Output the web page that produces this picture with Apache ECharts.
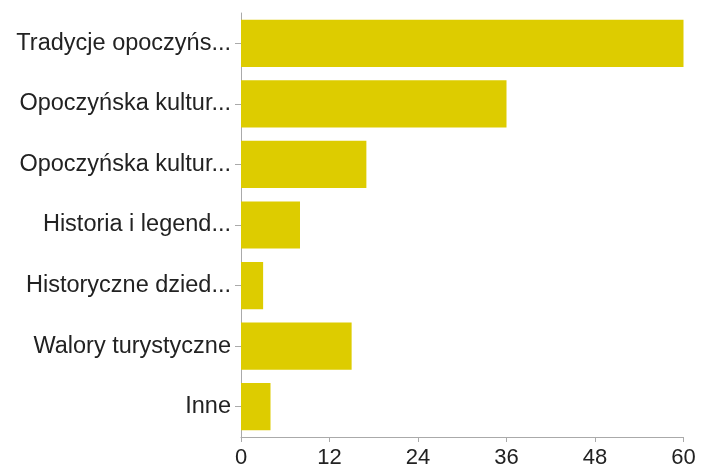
<!DOCTYPE html>
<html>
<head>
<meta charset="utf-8">
<script src="https://cdn.jsdelivr.net/npm/echarts@6/dist/echarts.min.js"></script>
<style>
  html, body { margin: 0; padding: 0; background: #fff; }
  #chart { width: 701px; height: 470px; }
</style>
</head>
<body>
<div id="chart"></div>
<script>
var categories = [
    'Tradycje opoczyńs...',
    'Opoczyńska kultur...',
    'Opoczyńska kultur...',
    'Historia i legend...',
    'Historyczne dzied...',
    'Walory turystyczne',
    'Inne'
];
var counts = [60, 36, 17, 8, 3, 15, 4];
var xTicks = [0, 12, 24, 36, 48, 60];

var chart = echarts.init(document.getElementById('chart'), null, { renderer: 'canvas' });
chart.setOption({
    animation: false,
    grid: { left: 241, right: 17.5, top: 13, bottom: 33, containLabel: false },
    xAxis: {
        type: 'value',
        min: xTicks[0],
        max: xTicks[xTicks.length - 1],
        interval: 12,
        splitLine: { show: false },
        axisLine: { show: true, lineStyle: { color: '#aaa', width: 1 } },
        axisTick: { show: true, length: 5, lineStyle: { color: '#aaa' } },
        axisLabel: { color: '#222', fontSize: 22, fontFamily: 'Liberation Sans, Arial, sans-serif', margin: 10 }
    },
    yAxis: {
        type: 'category',
        data: categories,
        inverse: true,
        axisLine: { show: true, lineStyle: { color: '#aaa', width: 1 } },
        axisTick: { show: true, length: 6, alignWithLabel: true, lineStyle: { color: '#aaa' } },
        axisLabel: { color: '#222', fontSize: 23.5, fontFamily: 'Liberation Sans, Arial, sans-serif', margin: 10 }
    },
    series: [{
        type: 'bar',
        data: counts,
        barCategoryGap: '22%',
        itemStyle: { color: '#DDCC00' }
    }]
});
</script>
</body>
</html>
